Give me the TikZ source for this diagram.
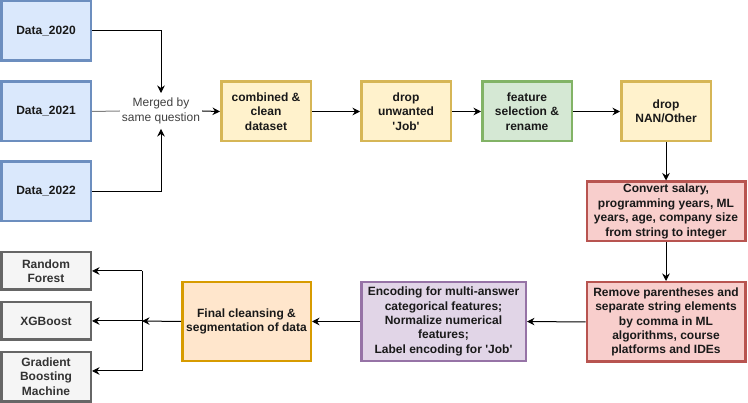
\documentclass[tikz,border=0pt]{standalone}
\usepackage{fontspec}
\setmainfont{Liberation Sans}
\usetikzlibrary{arrows.meta}
\definecolor{bluefill}{HTML}{DAE8FC}\definecolor{bluedraw}{HTML}{6C8EBF}
\definecolor{yelfill}{HTML}{FFF2CC}\definecolor{yeldraw}{HTML}{D6B656}
\definecolor{grnfill}{HTML}{D5E8D4}\definecolor{grndraw}{HTML}{82B366}
\definecolor{redfill}{HTML}{F8CECC}\definecolor{reddraw}{HTML}{B85450}
\definecolor{purfill}{HTML}{E1D5E7}\definecolor{purdraw}{HTML}{9673A6}
\definecolor{orgfill}{HTML}{FFE6CC}\definecolor{orgdraw}{HTML}{D79B00}
\definecolor{gryfill}{HTML}{F5F5F5}\definecolor{grydraw}{HTML}{666666}
\tikzset{font=\fontsize{12}{14.4}\selectfont}
\tikzset{box/.style={draw, line width=2.5pt, align=center, inner sep=1pt,
    font=\fontsize{12}{14.4}\selectfont\bfseries, text=black!90,
    minimum width=89.5pt, minimum height=59.5pt}}
\tikzset{arr/.style={-{Stealth[length=7.5pt,width=7.5pt,inset=2.5pt]}, line width=1pt}}
\newcommand{\jobq}{\textquotesingle Job\textquotesingle}

\begin{document}
\begin{tikzpicture}[x=1pt,y=-1pt]
  \useasboundingbox (0,0) rectangle (748,403);
  \foreach \yr/\y in {2020/31, 2021/111.5, 2022/191.5} {
    \node[box, fill=bluefill, draw=bluedraw] (data\yr) at (46,\y) {Data\_\yr};
  }
  \node[align=center, text=black!75, inner xsep=2pt, inner ysep=5pt] (merge) at (161,111) {Merged by\\same question};
  \node[box, fill=yelfill, draw=yeldraw] (combined) at (266,111.5) {combined \&\\clean\\dataset};
  \node[box, fill=yelfill, draw=yeldraw] (dropjob) at (406,111.5) {drop\\unwanted\\\jobq};
  \node[box, fill=grnfill, draw=grndraw] (feature) at (527,111.5) {feature\\selection \&\\rename};
  \node[box, fill=yelfill, draw=yeldraw] (dropnan) at (666,111.5) {drop\\NAN/Other};
  \node[box, fill=redfill, draw=reddraw, minimum width=158.5pt] (convert) at (666,211.5)
    {Convert salary,\\programming years, ML\\years, age, company size\\from string to integer};
  \node[box, fill=redfill, draw=reddraw, minimum width=158.5pt, minimum height=79.5pt] (remove) at (666,322)
    {Remove parentheses and\\separate string elements\\by comma in ML\\algorithms, course\\platforms and IDEs};
  \node[box, fill=purfill, draw=purdraw, minimum width=164.5pt, minimum height=79pt] (encode) at (443.5,321.5)
    {Encoding for multi-answer\\categorical features;\\Normalize numerical\\features;\\Label encoding for \jobq};
  \node[box, fill=orgfill, draw=orgdraw, minimum width=128.5pt, minimum height=79pt] (final) at (246.5,321.5)
    {Final cleansing \&\\segmentation of data};
  \node[box, fill=gryfill, draw=grydraw, text=black!80, minimum height=37.5pt] (rf) at (46,271) {Random\\Forest};
  \node[box, fill=gryfill, draw=grydraw, text=black!80, minimum height=37.5pt] (xgb) at (46,321) {XGBoost};
  \node[box, fill=gryfill, draw=grydraw, text=black!80, minimum height=49.5pt] (gbm) at (46,376.7) {Gradient\\Boosting\\Machine};
  \coordinate (split) at (142,321);
  \coordinate (splittop) at (142,271);
  \coordinate (splitbot) at (142,371);

  \draw[arr] (data2020.east) -| (merge.north);
  \draw[arr] (data2022.east) -| (merge.south);
  \draw[line width=1pt, black!50] (data2021.east) -- (merge.west);
  \draw[arr] (merge.east) -- (combined.west);
  \draw[arr] (combined) -- (dropjob);
  \draw[arr] (dropjob) -- (feature);
  \draw[arr] (feature) -- (dropnan);
  \draw[arr] (dropnan) -- (convert);
  \draw[arr] (convert) -- (remove);
  \draw[arr] (remove.west) -- (encode.east);
  \draw[arr] (encode.west) -- (final.east);
  \draw[arr] (final.west) -- (split);
  \draw[line width=1pt] (splittop) -- (splitbot);
  \draw[arr] (splittop) -- (rf.east);
  \draw[arr] (split) -- (xgb.east);
  \draw[arr] (splitbot) -- (splitbot -| gbm.east);
\end{tikzpicture}
\end{document}
